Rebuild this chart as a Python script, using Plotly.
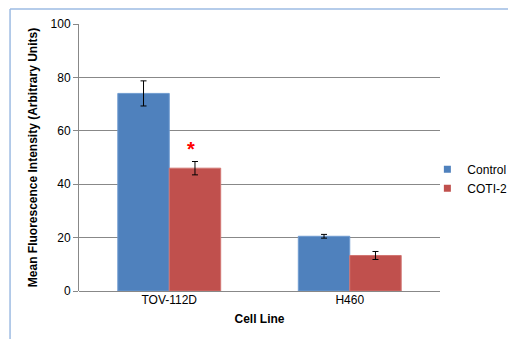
import plotly.graph_objects as go

categories = ["TOV-112D", "H460"]
control = [74.0, 20.5]
control_err = [4.7, 0.7]
coti2 = [46.0, 13.3]
coti2_err = [2.5, 1.5]
y_ticks = [0, 20, 40, 60, 80, 100]
series_names = ["Control", "COTI-2"]
series_colors = ["#4f81bd", "#c0504d"]

font_family = "Liberation Sans, Arial, sans-serif"

fig = go.Figure()
fig.add_trace(go.Bar(
    name=series_names[0], x=categories, y=control, showlegend=False,
    marker=dict(color=series_colors[0], line=dict(color="#6f9bd0", width=1)),
    error_y=dict(type="data", array=control_err, color="black", thickness=1, width=3),
))
fig.add_trace(go.Bar(
    name=series_names[1], x=categories, y=coti2, showlegend=False,
    marker=dict(color=series_colors[1], line=dict(color="#d27572", width=1)),
    error_y=dict(type="data", array=coti2_err, color="black", thickness=1, width=3),
))
# legend entries with small square symbols
for nm, col in zip(series_names, series_colors):
    fig.add_trace(go.Scatter(
        name=nm, x=[None], y=[None], mode="markers",
        marker=dict(symbol="square", size=7, color=col),
    ))

fig.add_annotation(x=0.12, y=53, xref="x", yref="y", text="<b>*</b>",
                   showarrow=False, font=dict(color="red", size=20, family=font_family))

# outer frame (top and left edges only visible)
frame_col = "#9dbbe3"
fig.add_shape(type="line", xref="paper", yref="paper", x0=-0.191, x1=1.3, y0=1.056, y1=1.056,
              line=dict(color=frame_col, width=1.5))
fig.add_shape(type="line", xref="paper", yref="paper", x0=-0.191, x1=-0.191, y0=-0.3, y1=1.056,
              line=dict(color=frame_col, width=1.5))

grid_col = "#888888"
fig.update_layout(
    template="none",
    width=508, height=331,
    margin=dict(l=71, r=76, t=16, b=48, autoexpand=False),
    paper_bgcolor="white", plot_bgcolor="white",
    barmode="group", bargap=0.43, bargroupgap=0,
    font=dict(family=font_family, size=12, color="#000000"),
    showlegend=True,
    legend=dict(x=0.965, y=0.42, xanchor="left", yanchor="middle",
                font=dict(size=12), itemwidth=30, tracegroupgap=0,
                bgcolor="rgba(0,0,0,0)"),
    xaxis=dict(
        title=dict(text="<b>Cell Line</b>", font=dict(size=12), standoff=8),
        showline=False, ticks="", showgrid=False, zeroline=False, tickfont=dict(size=12),
    ),
    yaxis=dict(
        title=dict(text="<b>Mean Fluorescence Intensity (Arbitrary Units)</b>", font=dict(size=12), standoff=10),
        range=[0, 100], tickvals=y_ticks, showgrid=True, gridcolor=grid_col, gridwidth=1,
        showline=True, linecolor=grid_col, linewidth=1, ticks="outside", ticklen=5,
        tickcolor=grid_col, zeroline=True, zerolinecolor=grid_col, zerolinewidth=1,
        tickfont=dict(size=12),
    ),
)

fig.write_html("out.html")
